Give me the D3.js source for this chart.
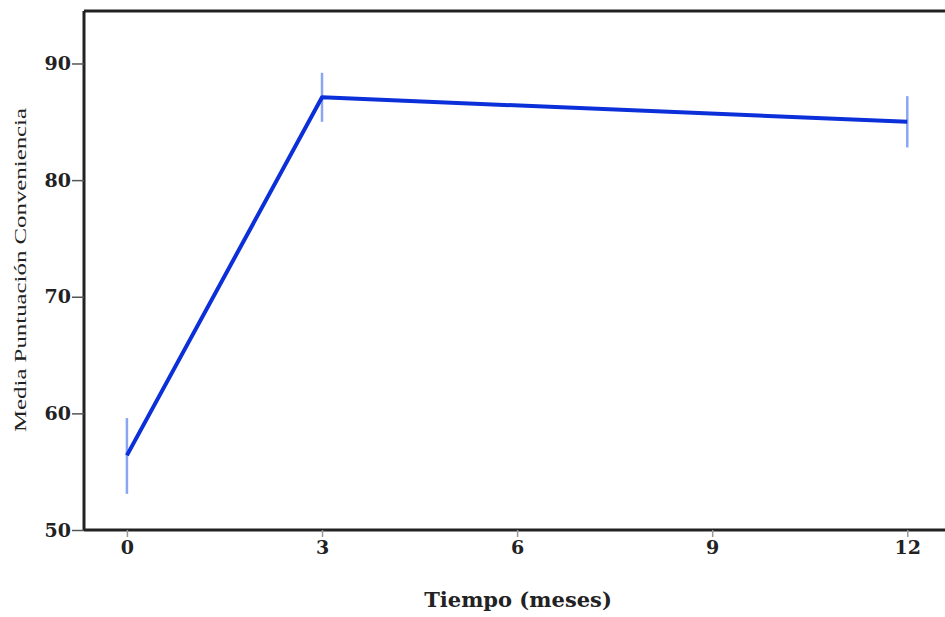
<!DOCTYPE html>
<html><head><meta charset="utf-8">
<script src="https://cdn.jsdelivr.net/npm/d3@7"></script>
<style>body{margin:0;background:#fff}</style>
</head><body>
<svg id="c" width="945" height="617"></svg>
<script>
const months = [0, 3, 12];
const means = [56.4, 87.1, 85.0];
const errLow = [53.1, 85.0, 82.8];
const errHigh = [59.6, 89.2, 87.2];
const xTicks = [0, 3, 6, 9, 12];
const yTicks = [50, 60, 70, 80, 90];

const svg = d3.select("#c");
const L = 84, T = 11, R = 945, B = 530;
const x = d3.scaleLinear().domain([-0.66, 12.58]).range([L, R]);
const y = d3.scaleLinear().domain([50, 94.5]).range([B, T]);

const font = "'DejaVu Serif', 'Liberation Serif', serif";

// frame top
svg.append("line").attr("x1", L).attr("x2", R).attr("y1", T).attr("y2", T)
  .attr("stroke", "#222").attr("stroke-width", 3);

// y axis
const ya = svg.append("g").attr("transform", `translate(${L},0)`)
  .call(d3.axisLeft(y).tickValues(yTicks).tickSize(12).tickPadding(1).tickSizeOuter(0));
ya.select(".domain").attr("stroke", "#222").attr("stroke-width", 3).attr("d", `M0,${T}V${B}`);
ya.selectAll(".tick line").attr("stroke", "#555").attr("stroke-width", 1.5);
ya.selectAll(".tick text").attr("font-family", font).attr("font-weight", "bold")
  .attr("font-size", 19).attr("fill", "#222");

// x axis
const xa = svg.append("g").attr("transform", `translate(0,${B})`)
  .call(d3.axisBottom(x).tickValues(xTicks).tickSize(7).tickPadding(4).tickSizeOuter(0));
xa.select(".domain").attr("stroke", "#222").attr("stroke-width", 3).attr("d", `M${L},0H${R}`);
xa.selectAll(".tick line").attr("stroke", "#999").attr("stroke-width", 1.5);
xa.selectAll(".tick text").attr("font-family", font).attr("font-weight", "bold")
  .attr("font-size", 19).attr("fill", "#222");

// error bars
svg.append("g").selectAll("line").data(months).join("line")
  .attr("x1", d => x(d)).attr("x2", d => x(d))
  .attr("y1", (d, i) => y(errLow[i])).attr("y2", (d, i) => y(errHigh[i]))
  .attr("stroke", "#8aa6f2").attr("stroke-width", 2.5);

// mean line
const line = d3.line().x((d, i) => x(months[i])).y(d => y(d));
svg.append("path").datum(means).attr("d", line)
  .attr("fill", "none").attr("stroke", "#0b2fd9").attr("stroke-width", 4)
  .attr("stroke-linejoin", "round");

// labels
svg.append("text").attr("x", 518).attr("y", 607).attr("text-anchor", "middle")
  .attr("font-family", font).attr("font-weight", "bold").attr("font-size", 21)
  .attr("fill", "#222").text("Tiempo (meses)");
svg.append("text").attr("transform", "translate(26,270) rotate(-90)")
  .attr("text-anchor", "middle").attr("font-family", "'Liberation Serif', serif").attr("font-size", 17)
  .attr("textLength", 324).attr("lengthAdjust", "spacingAndGlyphs")
  .attr("fill", "#222").text("Media Puntuación Conveniencia");
</script>
</body></html>
